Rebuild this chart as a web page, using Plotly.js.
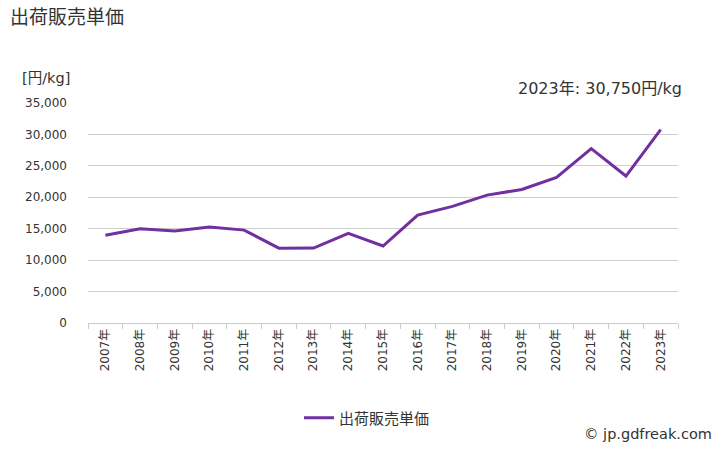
<!DOCTYPE html>
<html>
<head>
<meta charset="utf-8">
<script src="https://cdn.plot.ly/plotly-3.0.1.min.js"></script>
<style>html,body{margin:0;padding:0;background:#fff}#chart{width:728px;height:450px}</style>
</head>
<body>
<div id="chart"></div>
<script>
var years = ["2007年","2008年","2009年","2010年","2011年","2012年","2013年","2014年","2015年","2016年","2017年","2018年","2019年","2020年","2021年","2022年","2023年"];
var prices = [13950, 15000, 14650, 15270, 14780, 11900, 11920, 14250, 12250, 17180, 18550, 20350, 21250, 23180, 27750, 23380, 30750];
var seriesName = "出荷販売単価";
var yTicks = [0, 5000, 10000, 15000, 20000, 25000, 30000, 35000];
var yTickText = ["0", "5,000", "10,000", "15,000", "20,000", "25,000", "30,000", "35,000"];

var font = "'DejaVu Sans', 'Noto Sans CJK JP', sans-serif";
var trace = {
  x: years, y: prices, type: "scatter", mode: "lines", name: seriesName,
  line: {color: "#7030a0", width: 3}
};
var layout = {
  width: 728, height: 450,
  margin: {l: 88, r: 50, t: 103, b: 127},
  paper_bgcolor: "#fff", plot_bgcolor: "#fff",
  font: {family: font, color: "#333", size: 12},
  showlegend: true,
  legend: {orientation: "h", x: (367-88)/590, xanchor: "center", y: -(418-323)/220, yanchor: "middle", font: {size: 15, color: "#333"}},
  xaxis: {
    type: "category", tickangle: -90, tickfont: {size: 12},
    showgrid: false, showline: true, linecolor: "#ccc", linewidth: 1,
    ticks: "outside", ticklen: 5, tickcolor: "#ccc", tickson: "boundaries",
    range: [-0.5, 16.5], fixedrange: true
  },
  yaxis: {
    range: [0, 35000], tickvals: yTicks, ticktext: yTickText, tickfont: {size: 12},
    showgrid: true, gridcolor: "#d0d0d0", gridwidth: 1,
    zeroline: false, showline: false, ticks: "", ticklabelstandoff: 20, fixedrange: true
  },
  annotations: [
    {text: "出荷販売単価", xref: "paper", yref: "paper", x: -80/590, y: 1+(103-17)/220, xanchor: "left", yanchor: "middle", showarrow: false, font: {size: 19, color: "#333"}},
    {text: "[円/kg]", xref: "paper", yref: "paper", x: -68/590, y: 1+(103-78)/220, xanchor: "left", yanchor: "middle", showarrow: false, font: {size: 14.5, color: "#333"}},
    {text: "2023年: 30,750円/kg", xref: "paper", yref: "paper", x: 1+6/590, y: 1+(103-89)/220, xanchor: "right", yanchor: "middle", showarrow: false, font: {size: 16, color: "#333"}},
    {text: "© jp.gdfreak.com", xref: "paper", yref: "paper", x: 1+36/590, y: -(434-323)/220, xanchor: "right", yanchor: "middle", showarrow: false, font: {size: 14.5, color: "#333"}}
  ]
};
Plotly.newPlot("chart", [trace], layout, {displayModeBar: false, staticPlot: true});
</script>
</body>
</html>
